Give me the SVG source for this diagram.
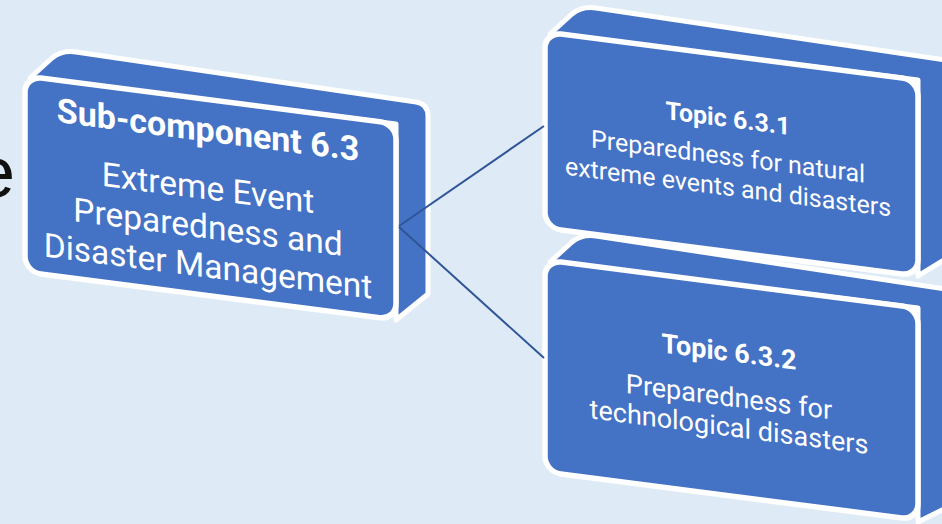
<svg xmlns="http://www.w3.org/2000/svg" width="942" height="524" viewBox="0 0 942 524">
  <style>
    .ext { fill: #4472C4; stroke: #FFFFFF; stroke-width: 5; stroke-linejoin: round; }
    .face { fill: #4472C4; stroke: #FFFFFF; stroke-width: 5.5; }
    .title { font-family: Roboto, "Liberation Sans", sans-serif; font-weight: bold; fill: #FFFFFF; text-anchor: middle; }
    .body { font-family: Roboto, "Liberation Sans", sans-serif; fill: #FFFFFF; text-anchor: middle; }
    .conn { stroke: #2F5597; stroke-width: 2; fill: none; }
  </style>
  <rect x="0" y="0" width="942" height="524" fill="#DEEBF7"/>
  <text x="15" y="197" font-family="'Liberation Sans', Arial, sans-serif" font-size="73" fill="#111111" text-anchor="end">e</text>

  <g id="subcomponent-6-3">
    <path class="ext" d="M 30,78 L 52,58 Q 62,50 76,52 L 416,102 Q 428,104 428,116 L 428,294 L 396,320 L 396,124 Z"/>
    <g transform="matrix(1,0.1287,0,1,25,76)">
      <rect class="face" x="0" y="0" width="371" height="196" rx="16" ry="16"/>
      <text class="title" x="183" y="42" font-size="34">Sub-component 6.3</text>
      <text class="body" x="183" y="100" font-size="33.5">Extreme Event</text>
      <text class="body" x="183" y="139" font-size="33.5">Preparedness and</text>
      <text class="body" x="183" y="178" font-size="33.5">Disaster Management</text>
    </g>
  </g>

  <g id="topic-6-3-2">
    <path class="ext" d="M 550,262 L 572,242 Q 582,234 596,236 L 952,290 L 952,505 L 918,522 L 918,308 Z"/>
    <g transform="matrix(1,0.1287,0,1,545,260)">
      <rect class="face" x="0" y="0" width="373" height="212" rx="16" ry="16"/>
      <text class="title" x="184" y="77.5" font-size="27">Topic 6.3.2</text>
      <text class="body" x="184" y="122.5" font-size="27">Preparedness for</text>
      <text class="body" x="184" y="152.5" font-size="27">technological disasters</text>
    </g>
  </g>

  <g id="topic-6-3-1">
    <path class="ext" d="M 550,34 L 572,14 Q 582,6 596,8 L 952,61 L 952,255 L 918,276 L 918,80 Z"/>
    <g transform="matrix(1,0.1287,0,1,545,32)">
      <rect class="face" x="0" y="0" width="373" height="196" rx="16" ry="16"/>
      <text class="title" x="183" y="71.5" font-size="25">Topic 6.3.1</text>
      <text class="body" x="183" y="109.5" font-size="25">Preparedness for natural</text>
      <text class="body" x="183" y="140" font-size="25">extreme events and disasters</text>
    </g>
  </g>

  <g id="connectors">
    <line class="conn" x1="399" y1="226" x2="544" y2="126"/>
    <line class="conn" x1="399" y1="227" x2="544" y2="358"/>
  </g>
</svg>
